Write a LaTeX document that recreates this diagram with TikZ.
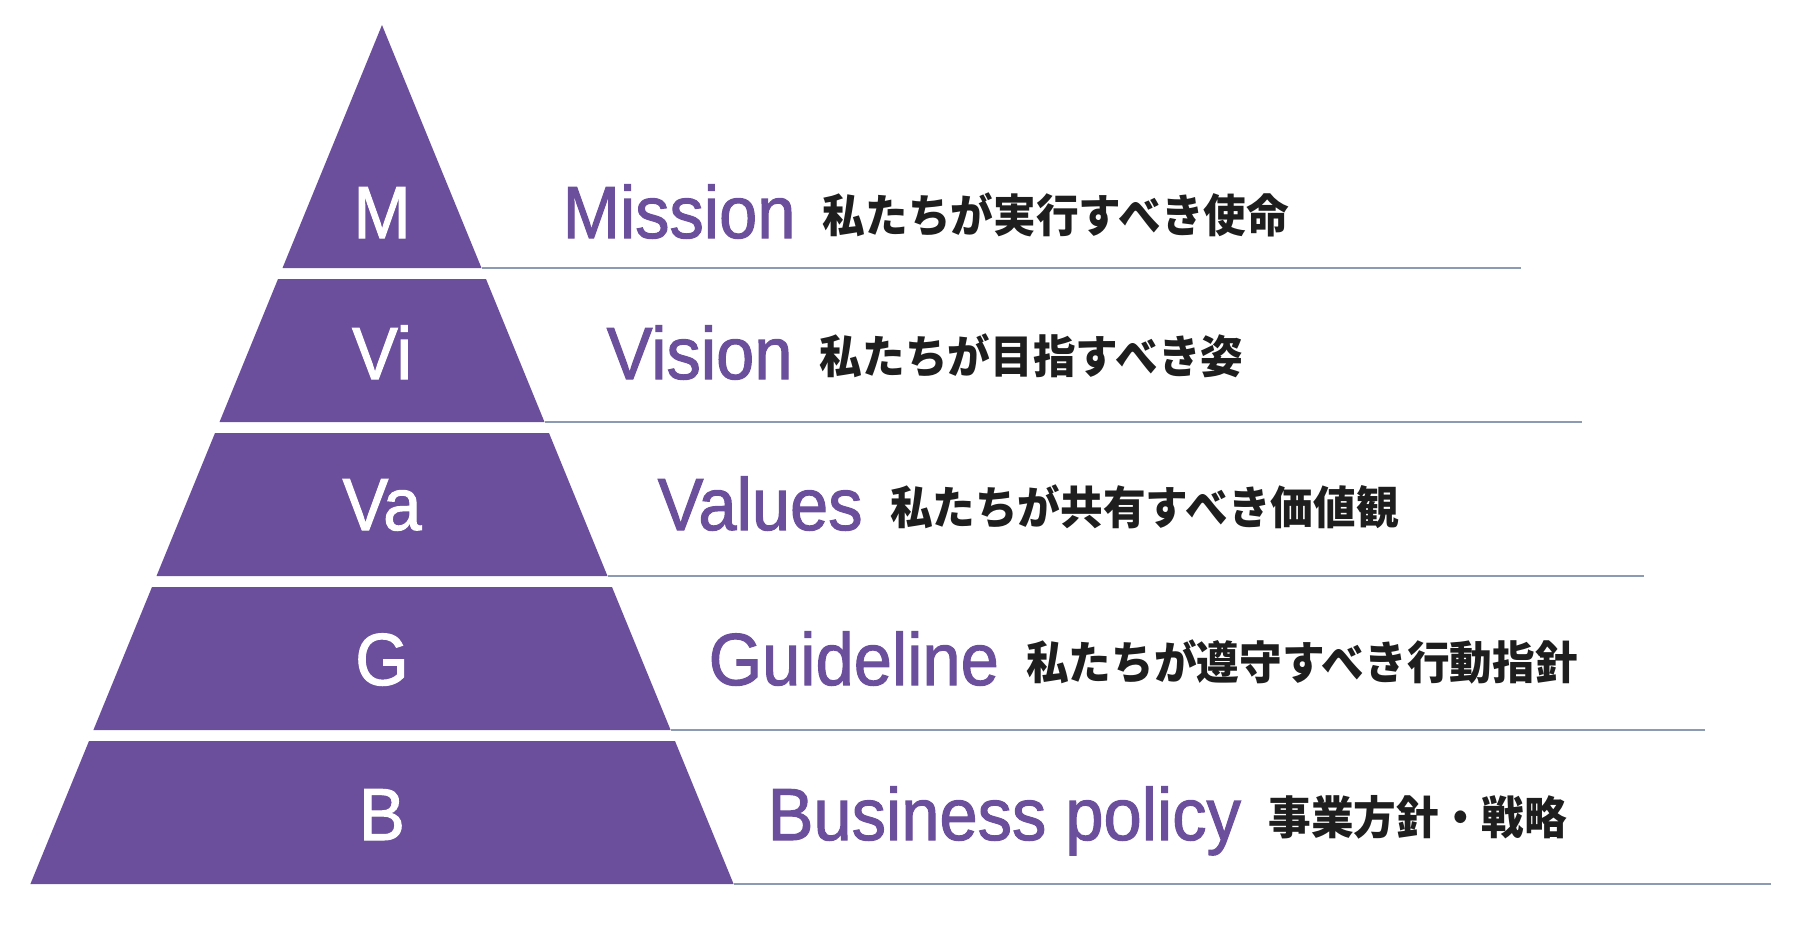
\documentclass[tikz,border=0pt]{standalone}
\usepackage{fontspec}
\setmainfont{Liberation Sans}
\newfontfamily\titlefont[FakeBold=1.4, FakeStretch=0.93]{Liberation Sans}
\newfontfamily\jpfont[FakeStretch=0.94]{Noto Sans CJK JP}
\usepackage{xcolor}
\usepackage{tikz}
\usetikzlibrary{positioning}

\definecolor{pyra}{RGB}{108,79,156}
\definecolor{rulecol}{RGB}{140,155,178}
\definecolor{inkjp}{RGB}{30,30,30}

\begin{document}
\begin{tikzpicture}[
        x=0.01cm, y=-0.01cm,
        tier/.style={fill=pyra},
        letter/.style={anchor=base, text=white, inner sep=0pt, font=\titlefont\fontsize{21}{24}\selectfont},
        title/.style={anchor=base west, text=pyra, inner sep=0pt, font=\titlefont\fontsize{21}{24}\selectfont},
        note/.style={text=inkjp, inner sep=0pt, yshift=1.6pt, font=\jpfont\bfseries\fontsize{12.9}{15}\selectfont},
        rule/.style={draw=rulecol, line width=0.8pt}
    ]
    \useasboundingbox (0,0) rectangle (1800,929);

    % pyramid tiers
    \fill [tier] (382,25) -- (481.5,268) -- (282.5,268) -- cycle;
    \fill [tier] (278,279) -- (486,279) -- (544.5,422) -- (219.5,422) -- cycle;
    \fill [tier] (215,433) -- (549,433) -- (607.5,576) -- (156.5,576) -- cycle;
    \fill [tier] (152,587) -- (612,587) -- (670.6,730) -- (93.4,730) -- cycle;
    \fill [tier] (89,741) -- (675,741) -- (733.6,884) -- (30.4,884) -- cycle;

    \node (lm) [letter] at (382,238) {M};
    \node (lvi) [letter] at (382,379) {Vi};
    \node (lva) [letter] at (382,530) {Va};
    \node (lg) [letter] at (382,685) {G};
    \node (lb) [letter] at (382,840) {B};

    % rules under each tier
    \coordinate (r1) at (481.5,268);
    \coordinate (r2) at (544.5,422);
    \coordinate (r3) at (607.5,576);
    \coordinate (r4) at (670.6,730);
    \coordinate (r5) at (733.6,884);
    \coordinate (e1) at (1521,268);
    \coordinate (e2) at (1582,422);
    \coordinate (e3) at (1644,576);
    \coordinate (e4) at (1705,730);
    \coordinate (e5) at (1771,884);
    \draw [rule] (r1) -- (e1);
    \draw [rule] (r2) -- (e2);
    \draw [rule] (r3) -- (e3);
    \draw [rule] (r4) -- (e4);
    \draw [rule] (r5) -- (e5);

    \node (mission) [title] at (562,238) {Mission};
    \node (vision) [title] at (606,379) {Vision};
    \node (values) [title] at (657,530) {Values};
    \node (guide) [title] at (708,685) {Guideline};
    \node (business) [title] at (767,840) {Business policy};

    \node (missionjp) [note, base right=0.26cm of mission] {私たちが実行すべき使命};
    \node (visionjp) [note, base right=0.26cm of vision] {私たちが目指すべき姿};
    \node (valuesjp) [note, base right=0.26cm of values] {私たちが共有すべき価値観};
    \node (guidejp) [note, base right=0.26cm of guide] {私たちが遵守すべき行動指針};
    \node (businessjp) [note, base right=0.26cm of business] {事業方針・戦略};

\end{tikzpicture}
\end{document}
